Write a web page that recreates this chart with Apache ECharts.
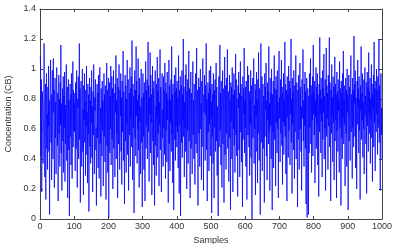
<!DOCTYPE html>
<html><head><meta charset="utf-8">
<script src="https://cdn.jsdelivr.net/npm/echarts@6/dist/echarts.min.js"></script>
<style>html,body{margin:0;padding:0;background:#fff}#c{width:393px;height:244px}</style>
</head><body><div id="c"></div>
<script>
var xTicks=[0,100,200,300,400,500,600,700,800,900,1000];
var yTicks=[0,0.2,0.4,0.6,0.8,1,1.2,1.4];
var s0=[1.09,.95,.42,.93,.18,.60,.85,.72,.37,.55,.81,1.17,.66,.28,.74,.90,.13,.58,.97,.47,.70,.33,.88,.62,1.02,.45,.79,.03,.68,.92,1.06,.51,.83,.26,.75,.99,.60,.40,1.07,.71,.86,.21,.64,.94,.54,.78,.30,.89,1.01,.67,.49,.84,.12,.73,.96,.57,.80,.35,.91,.63,1.16,.44,.77,.19,.69,.87,.52,.95,.31,.82,.61,.98,.25,.76,.50,.85,1.03,.39,.72,.88,.14,.66,.93,.46,.79,.02,.70,.90,.55,.83,.36,.97,.62,.27,.74,1.05,.48,.86,.59,.77];
var s1=[.58,.84,.32,.91,.70,.47,.99,.63,.21,.80,.74,.95,.40,.68,1.17,.53,.87,.11,.76,.92,.60,.35,.82,1.00,.45,.73,.16,.89,.66,.97,.51,.78,.29,.86,.62,1.02,.43,.71,.24,.90,.57,.83,.05,.69,.94,.48,.79,.37,.88,.64,.99,.41,.75,.18,.85,.56,1.03,.67,.30,.81,.72,.93,.46,.61,.09,.77,.90,.54,.84,.34,.96,.63,.27,.80,1.01,.50,.74,.15,.87,.68,.42,.92,.59,.79,.22,.70,.97,.55,.83,.38,.89,.65,.13,.76,1.04,.49,.86,.31,.72,.94];
var s2=[.01,.68,.91,.44,.82,.60,1.02,.36,.77,.95,.53,.87,.20,.73,.99,.47,.84,.64,.28,.90,.71,1.09,.40,.79,.57,.94,.14,.75,.88,.50,1.03,.62,.33,.86,.69,.97,.45,.81,.23,.92,.58,.78,1.12,.39,.85,.66,.10,.74,.96,.52,.89,.31,.80,.63,1.06,.43,.76,.93,.19,.70,.84,.56,1.01,.35,.87,.67,.95,.48,1.19,.73,.26,.90,.61,.82,.04,.77,.99,.54,.86,.42,1.15,.69,.92,.37,.79,.60,1.07,.46,.83,.21,.94,.65,.75,.30,.88,1.00,.51,.81,.08,.72];
var s3=[.97,.55,.84,.33,.91,.68,.12,.79,1.05,.47,.86,.62,.93,.40,.74,1.18,.58,.89,.25,.81,.70,1.11,.44,.96,.64,.83,.16,.77,1.02,.52,.87,.36,.92,.60,.09,.80,.99,.49,.75,.29,.90,.67,1.08,.41,.85,.57,.94,.22,.78,.63,1.13,.46,.88,.71,.18,.82,.97,.54,.73,.35,.95,.61,.86,.43,1.04,.76,.27,.91,.59,.84,.38,.98,.66,.80,.11,.72,1.06,.50,.89,.32,.79,.64,.93,.45,1.15,.57,.83,.24,.90,.69,.06,.77,.96,.53,.85,.39,1.01,.62,.87,.48];
var s4=[.92,.58,.81,.34,1.09,.70,.17,.86,.63,.95,.02,.74,.89,.51,.99,.41,.83,.66,1.20,.55,.88,.28,.78,.61,.96,.45,1.03,.72,.20,.85,.59,.93,.37,.80,1.12,.52,.87,.68,.14,.76,.98,.47,.84,.62,.30,.91,1.05,.56,.79,.40,.90,.67,.23,.82,.97,.50,.75,1.14,.44,.86,.64,.09,.73,.94,.57,.88,.35,.81,1.00,.60,.77,.26,.92,.48,.85,1.07,.65,.19,.83,.71,.96,.53,.39,.89,.69,1.17,.46,.80,.12,.74,.91,.58,.84,.32,.99,.63,.87,.42,1.02,.67];
var s5=[.78,.04,.90,.55,.83,.37,.97,.69,.14,.86,.61,.93,.45,.79,1.04,.52,.88,.29,.75,.66,.02,.82,.95,.48,.71,1.16,.59,.84,.36,.92,.64,.21,.80,.99,.50,.87,.70,.11,.76,1.08,.43,.89,.62,.33,.94,.57,.81,1.13,.47,.73,.85,.25,.68,.96,.54,.79,.06,.91,.65,.88,.40,1.01,.72,.18,.83,.60,.97,.49,.86,.31,.77,1.10,.56,.93,.42,.80,.67,.15,.89,.74,.98,.46,.84,.28,.71,1.05,.58,.90,.38,.82,.63,.08,.95,.53,.87,.70,1.14,.44,.79,.61];
var s6=[.88,.35,.92,.67,.13,.81,1.02,.56,.74,.96,.48,.85,.29,.79,.63,.99,.41,.89,.20,.00,.71,.94,.54,.83,1.07,.37,.76,.60,.90,.16,.86,.68,.98,.45,.80,.24,.93,.57,1.11,.72,.39,.87,.64,.03,.84,1.17,.51,.78,.95,.32,.70,.90,.47,.82,.61,.11,.97,.55,.88,.73,1.04,.42,.79,.26,.91,.66,.85,.50,1.15,.59,.77,.19,.94,.62,.84,.40,1.00,.69,.06,.83,.58,.92,.34,.80,1.09,.53,.87,.72,.22,.95,.64,.86,.44,.99,.60,.78,.14,.90,1.12,.67];
var s7=[.81,.38,.93,.57,.76,1.06,.49,.88,.23,.84,.65,.97,.43,.79,.62,1.18,.55,.90,.30,.74,.86,.12,.95,.68,.83,.41,1.02,.59,.78,.92,.36,.87,.70,1.20,.51,.80,.17,.94,.63,.85,.46,.99,.73,.27,.89,.58,.82,1.09,.40,.77,.91,.64,.08,.86,.53,.96,.71,.33,.84,1.04,.60,.88,.45,.75,.19,.93,.67,.81,1.13,.52,.79,.35,.90,.62,.98,.47,.85,.10,.72,.94,.01,.57,.87,.69,.03,.82,.44,.97,.61,.78,1.07,.50,.89,.31,.83,.66,.95,.42,1.16,.70];
var s8=[.85,.56,.92,.24,.79,.68,1.01,.47,.88,.63,.97,.36,.83,.74,.15,.90,.58,1.21,.70,.86,.44,.94,.65,.80,.28,.99,.53,.87,.71,1.10,.40,.82,.60,.93,.19,.77,1.14,.55,.89,.67,.84,.33,.96,.62,.78,1.21,.48,.91,.73,.12,.86,.57,1.03,.69,.81,.38,.95,.64,.88,.26,.76,1.08,.52,.90,.66,.83,.14,.98,.59,.85,.45,.93,.72,.79,.31,1.05,.61,.87,.70,.09,.92,.54,.84,.40,.97,.68,1.12,.50,.80,.63,.89,.22,.76,.94,.57,.86,.35,1.00,.71,.83];
var s9=[.06,.74,.96,.52,.88,.65,.39,.91,1.09,.58,.83,.70,.27,.94,.61,.86,.48,1.22,.77,.90,.55,.99,.34,.81,.68,.20,.92,.63,1.06,.75,.87,.44,.95,.59,.80,.13,.89,.72,1.15,.53,.84,.66,.97,.41,.78,.60,.93,.30,.86,1.01,.69,.82,.50,.91,.17,.76,.98,.62,.88,.45,1.11,.71,.85,.57,.94,.37,.80,.67,1.03,.54,.90,.25,.83,.73,.96,.48,1.18,.64,.87,.32,.79,.92,.58,1.00,.70,.86,.43,.95,.61,.84,1.20,.51,.89,.66,.19,.81,.97,.56,.74,.40];
var values=[].concat(s0,s1,s2,s3,s4,s5,s6,s7,s8,s9);
var data=values.map(function(v,i){return [i+1,v];});
var font='"Liberation Sans", Arial, sans-serif';
var axColor='#444';
var lbl={color:'#333',fontSize:9,fontFamily:font};
function xa(pos,show){return {type:'value',position:pos,min:xTicks[0],max:xTicks[xTicks.length-1],interval:100,
 axisLine:{show:true,onZero:false,lineStyle:{color:axColor,width:1}},
 axisTick:{show:true,inside:true,length:3,lineStyle:{color:axColor}},
 axisLabel:Object.assign({show:show,margin:3,formatter:function(v){return String(v);}},lbl),splitLine:{show:false},
 name:show?'Samples':'',nameLocation:'middle',nameGap:13,nameTextStyle:lbl};}
function ya(pos,show){return {type:'value',position:pos,min:yTicks[0],max:yTicks[yTicks.length-1],interval:0.2,
 axisLine:{show:true,onZero:false,lineStyle:{color:axColor,width:1}},
 axisTick:{show:true,inside:true,length:3,lineStyle:{color:axColor}},
 axisLabel:Object.assign({show:show,margin:4,formatter:function(v){return String(Math.round(v*10)/10);}},lbl),splitLine:{show:false},
 name:show?'Concentration (CB)':'',nameLocation:'middle',nameGap:23,nameTextStyle:lbl};}
var chart=echarts.init(document.getElementById('c'),null,{renderer:'canvas'});
chart.setOption({animation:false,backgroundColor:'#fff',
 grid:{left:40,right:11,top:9,bottom:25,containLabel:false,outerBoundsMode:'none'},
 xAxis:[xa('bottom',true),xa('top',false)],
 yAxis:[ya('left',true),ya('right',false)],
 series:[{type:'line',data:data,xAxisIndex:0,yAxisIndex:0,showSymbol:false,symbol:'none',sampling:null,
  lineStyle:{color:'#0000ff',width:0.75},itemStyle:{color:'#0000ff'}}]
});
</script></body></html>
